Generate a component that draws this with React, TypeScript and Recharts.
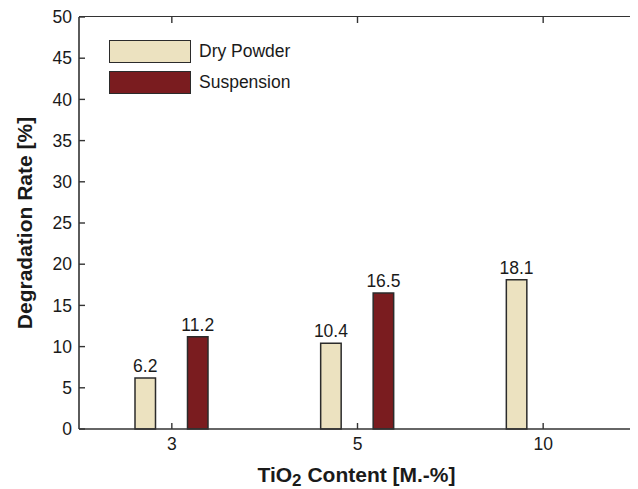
import React from "react";
import {
  BarChart,
  Bar,
  XAxis,
  YAxis,
  Legend,
  LabelList,
  Label,
} from "recharts";

// TiO2 loading categories (M.-%)
const categories = ["3", "5", "10"];
// Degradation rate [%] per preparation method
const dryPowder = [6.2, 10.4, 18.1];
const suspension: (number | null)[] = [11.2, 16.5, null];
// Y axis ticks
const yTicks = [0, 5, 10, 15, 20, 25, 30, 35, 40, 45, 50];

const data = categories.map((c, i) => ({
  x: c,
  dry: dryPowder[i],
  susp: suspension[i],
}));

// Layout
const CHART_W = 630;
const CHART_H = 481;
const MARGIN = { top: 9, right: 2, left: 0, bottom: 0 };
const YAXIS_W = 71;
const XAXIS_H = 60;
const PLOT_LEFT = MARGIN.left + YAXIS_W;
const PLOT_RIGHT = CHART_W - MARGIN.right;
const PLOT_TOP = MARGIN.top;
const PLOT_BOTTOM = CHART_H - MARGIN.bottom - XAXIS_H;
const TICK_LEN = 6;

const FONT = "'Liberation Sans', Arial, Helvetica, sans-serif";
const AXIS = "#333333";
const TEXT = "#1a1a1a";
const DRY_FILL = "#ECE2C0";
const SUSP_FILL = "#7A1C1F";
const BAR_STROKE = "#2b2b2b";
const TICK_FONT = 17.5;

// Category tick: label below the axis plus the mirrored inward tick on the top edge.
const XTick = (p: any) => {
  const { x, y, payload } = p;
  return (
    <g>
      <line
        x1={x}
        x2={x}
        y1={PLOT_TOP}
        y2={PLOT_TOP + TICK_LEN}
        stroke={AXIS}
        strokeWidth={1.4}
      />
      <text
        x={x}
        y={y}
        dy="0.71em"
        textAnchor="middle"
        fontSize={TICK_FONT}
        fontFamily={FONT}
        fill={TEXT}
      >
        {payload.value}
      </text>
    </g>
  );
};

// Value tick: label left of the axis plus the mirrored inward tick on the right edge.
const YTick = (p: any) => {
  const { x, y, payload } = p;
  return (
    <g>
      <line
        x1={PLOT_RIGHT - TICK_LEN}
        x2={PLOT_RIGHT}
        y1={y}
        y2={y}
        stroke={AXIS}
        strokeWidth={1.4}
      />
      <text
        x={x}
        y={y}
        dy="0.355em"
        textAnchor="end"
        fontSize={TICK_FONT}
        fontFamily={FONT}
        fill={TEXT}
      >
        {payload.value}
      </text>
    </g>
  );
};

const LegendBox = (props: any) => {
  const items = props.payload || [];
  return (
    <div style={{ fontFamily: FONT }}>
      {items.map((it: any, i: number) => (
        <div
          key={i}
          style={{
            display: "flex",
            alignItems: "center",
            height: 23,
            marginBottom: 8,
          }}
        >
          <div
            style={{
              width: 80,
              height: 21,
              background: it.color,
              border: `1.5px solid ${BAR_STROKE}`,
            }}
          />
          <span
            style={{
              marginLeft: 8,
              fontSize: TICK_FONT,
              color: TEXT,
              lineHeight: "23px",
            }}
          >
            {it.value}
          </span>
        </div>
      ))}
    </div>
  );
};

const XTitle = (props: any) => {
  const vb = props.viewBox || {};
  const cx = vb.x + vb.width / 2 - 1;
  const y = vb.y + vb.height - 7;
  return (
    <text
      x={cx}
      y={y}
      textAnchor="middle"
      fontFamily={FONT}
      fontWeight="bold"
      fontSize={21}
      fill={TEXT}
    >
      <tspan>TiO</tspan>
      <tspan fontSize={17} dy={4}>
        2
      </tspan>
      <tspan dy={-4}> Content [M.-%]</tspan>
    </text>
  );
};

export default function App() {
  return (
    <div style={{ position: "relative", width: CHART_W, height: CHART_H }}>
      <BarChart
        width={CHART_W}
        height={CHART_H}
        data={data}
        margin={MARGIN}
        barSize={20.5}
        barGap={32}
        style={{ fontFamily: FONT }}
      >
        <XAxis
          dataKey="x"
          type="category"
          height={XAXIS_H}
          stroke={AXIS}
          axisLine={{ stroke: AXIS, strokeWidth: 1.6 }}
          tickLine={{ stroke: AXIS, strokeWidth: 1.4 }}
          tickSize={-TICK_LEN}
          tickMargin={15}
          tick={<XTick />}
        >
          <Label content={<XTitle />} />
        </XAxis>
        <YAxis
          domain={[0, 50]}
          ticks={yTicks}
          width={YAXIS_W}
          interval={0}
          axisLine={{ stroke: AXIS, strokeWidth: 1.6 }}
          tickLine={{ stroke: AXIS, strokeWidth: 1.4 }}
          tickSize={-TICK_LEN}
          tickMargin={13}
          tick={<YTick />}
        >
          <Label
            value="Degradation Rate [%]"
            angle={-90}
            position="insideLeft"
            offset={17}
            style={{
              textAnchor: "middle",
              fontSize: 21,
              fontWeight: "bold",
              fill: TEXT,
              fontFamily: FONT,
            }}
          />
        </YAxis>
        <Legend
          layout="vertical"
          align="center"
          verticalAlign="middle"
          content={<LegendBox />}
          wrapperStyle={{ top: 32, left: 101, width: 240, height: 80 }}
        />
        <Bar
          dataKey="dry"
          name="Dry Powder"
          fill={DRY_FILL}
          stroke={BAR_STROKE}
          strokeWidth={1.5}
          isAnimationActive={false}
        >
          <LabelList
            dataKey="dry"
            position="top"
            offset={6}
            style={{ fontSize: TICK_FONT, fill: TEXT, fontFamily: FONT }}
          />
        </Bar>
        <Bar
          dataKey="susp"
          name="Suspension"
          fill={SUSP_FILL}
          stroke={BAR_STROKE}
          strokeWidth={1.5}
          isAnimationActive={false}
        >
          <LabelList
            dataKey="susp"
            position="top"
            offset={6}
            style={{ fontSize: TICK_FONT, fill: TEXT, fontFamily: FONT }}
          />
        </Bar>
      </BarChart>
      {/* top and right edges of the plot frame */}
      <div
        style={{
          position: "absolute",
          left: PLOT_LEFT,
          top: PLOT_TOP - 0.8,
          width: PLOT_RIGHT - PLOT_LEFT + 0.8,
          height: PLOT_BOTTOM - PLOT_TOP + 0.8,
          borderTop: `1.6px solid ${AXIS}`,
          borderRight: `1.6px solid ${AXIS}`,
          boxSizing: "border-box",
          pointerEvents: "none",
        }}
      />
    </div>
  );
}
